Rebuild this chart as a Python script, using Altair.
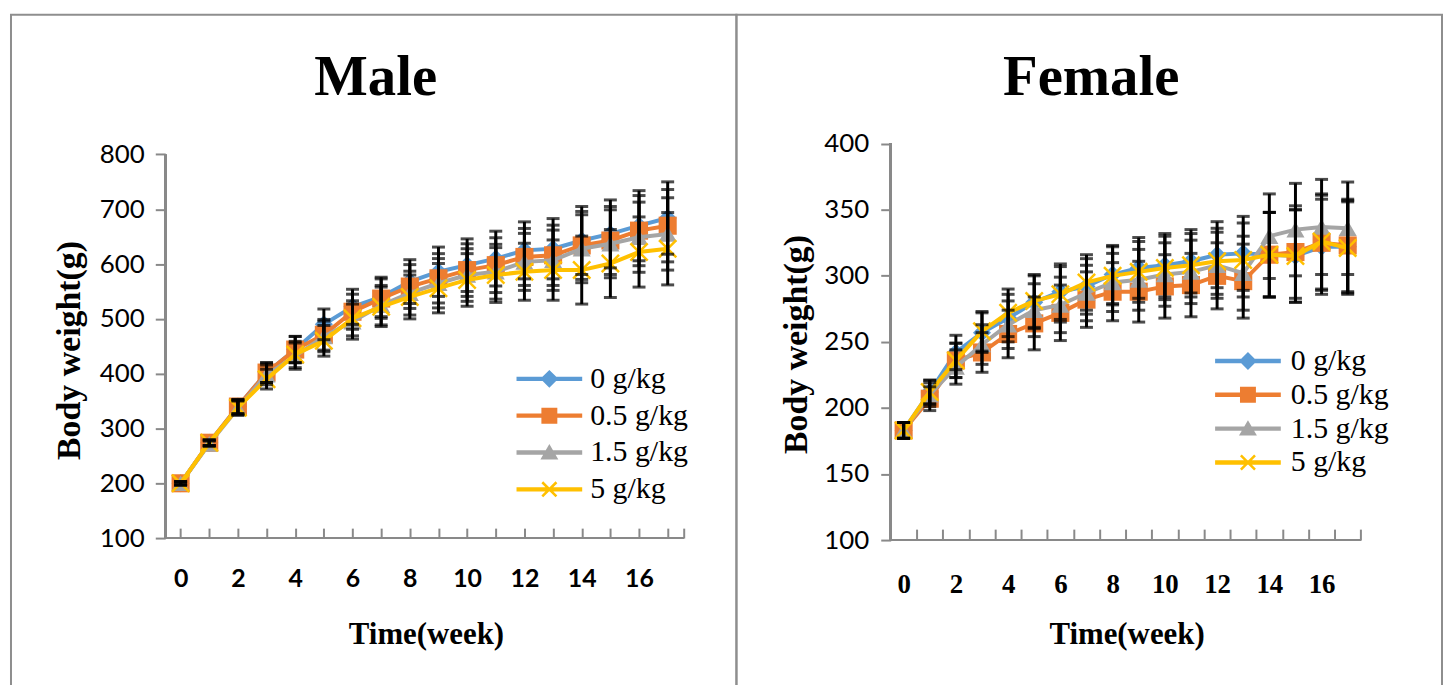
import altair as alt
import pandas as pd

# ---------------- data ----------------
weeks = list(range(18))
series_names = ["0 g/kg", "0.5 g/kg", "1.5 g/kg", "5 g/kg"]
series_colors = ["#5B9BD5", "#ED7D31", "#A5A5A5", "#FFC000"]

male_0 = [200, 274, 340, 402, 444, 490, 522, 540, 568, 586, 598, 610, 625, 628, 643, 655, 670, 684]
male_05 = [200, 274, 340, 402, 444, 471, 513, 537, 559, 574, 589, 598, 613, 616, 634, 643, 661, 670]
male_15 = [200, 272, 337, 398, 432, 468, 495, 525, 547, 565, 580, 586, 604, 607, 628, 637, 649, 655]
male_5 = [200, 274, 338, 390, 435, 460, 501, 522, 540, 556, 571, 580, 586, 589, 589, 601, 622, 628]
male_sd = [3, 5, 13, 18, 24, 28, 32, 36, 40, 45, 48, 50, 52, 55, 62, 62, 64, 66]

female_0 = [183, 212, 242, 257, 268, 280, 288, 292, 301, 306, 308, 311, 316, 317, 316, 315, 322, 322]
female_05 = [183, 207, 236, 242, 256, 264, 272, 282, 288, 288, 292, 293, 300, 296, 316, 318, 325, 323]
female_15 = [183, 210, 231, 248, 263, 274, 278, 287, 295, 297, 301, 303, 308, 302, 330, 335, 337, 336]
female_5 = [183, 212, 236, 258, 272, 281, 286, 295, 300, 303, 306, 308, 311, 312, 316, 315, 326, 321]
female_sd = [6, 9, 13, 15, 18, 20, 21, 21, 22, 23, 24, 24, 25, 28, 32, 35, 36, 35]

x_label_values = [0, 2, 4, 6, 8, 10, 12, 14, 16]
male_y_ticks = [100, 200, 300, 400, 500, 600, 700, 800]
female_y_ticks = [100, 150, 200, 250, 300, 350, 400]

# ---------------- styles ----------------
AXIS_GRAY = "#898989"
FRAME_GRAY = "#8e8e8e"
SERIF = "Liberation Serif"
SANS = "Lato"
MARKERS = ["diamond", "square", "triangle-up", "M-1,-1L1,1M1,-1L-1,1"]
BAR = "M-3.3,-0.22L3.3,-0.22L3.3,0.22L-3.3,0.22Z "
LEGEND_PATHS = [
    BAR + "M0,-0.9L0.9,0L0,0.9L-0.9,0Z",
    BAR + "M-0.8,-0.8L0.8,-0.8L0.8,0.8L-0.8,0.8Z",
    BAR + "M0,-0.85L0.9,0.7L-0.9,0.7Z",
    BAR + "M-0.8,-0.62L-0.62,-0.8L0.8,0.62L0.62,0.8Z M0.62,-0.8L0.8,-0.62L-0.62,0.8L-0.8,0.62Z",
]


def build_df(series_values, sd):
    rows = []
    for name, vals in zip(series_names, series_values):
        for w, v, s in zip(weeks, vals, sd):
            rows.append({"week": w, "weight": v, "lo": v - s, "hi": v + s, "series": name})
    return pd.DataFrame(rows)


def panel(title, df, g):
    W, H = g["width"], 680
    xs = alt.Scale(domain=g["xdom"], nice=False, zero=False)
    ys = alt.Scale(domain=g["ydom"], nice=False, zero=False)

    y_axis = alt.Axis(
        orient="left", values=g["yticks"], offset=g["yoff"], domain=False, grid=False,
        tickSize=10, tickWidth=2, tickColor=AXIS_GRAY,
        labelFont=SANS, labelFontSize=26, labelColor="black", labelPadding=g["ylabpad"],
        title="Body weight(g)", titleFont=SERIF, titleFontSize=34, titleFontWeight="bold",
        titleColor="black", titleAngle=270, titleAlign="center", titleBaseline="alphabetic",
        titleX=g["ytx"], titleY=g["yty"],
    )
    x_axis_bottom = alt.Axis(
        orient="bottom", values=x_label_values, offset=g["xoff"], domain=False,
        ticks=False, tickSize=0, grid=False, format="d",
        labelFont=g["xfont"], labelFontSize=g["xfs"], labelFontWeight="bold",
        labelColor="black", labelPadding=g["xlabpad"], labelFlush=False,
        title="Time(week)", titleFont=SERIF, titleFontSize=31, titleFontWeight="bold",
        titleColor="black", titleAlign="center", titleBaseline="alphabetic",
        titleX=g["xtx"], titleY=g["xty"],
    )
    x_axis_top = alt.Axis(
        orient="top", values=g["xticks"], offset=g["topoff"], domain=False,
        labels=False, ticks=True, tickSize=g["xticklen"], tickWidth=2,
        tickColor=AXIS_GRAY, grid=False, title=None,
    )

    x0, x1 = g["xaxis"]
    y0, y1 = g["yaxis"]
    base = alt.Chart(df)

    # invisible carrier layer for the y axis and the bottom x axis
    axis_carrier = base.mark_point(opacity=0).encode(
        x=alt.X("week:Q", scale=xs, axis=x_axis_bottom),
        y=alt.Y("weight:Q", scale=ys, axis=y_axis),
    )
    # axis lines drawn in data units
    x_line = base.mark_rule(color=AXIS_GRAY, strokeWidth=2).encode(
        x=alt.X(datum=x0, type="quantitative", scale=xs, axis=x_axis_top),
        x2=alt.X2(datum=x1),
        y=alt.Y(datum=y0, type="quantitative", scale=ys, axis=None),
    )
    y_line = base.mark_rule(color=AXIS_GRAY, strokeWidth=2).encode(
        x=alt.X(datum=x0, type="quantitative", scale=xs, axis=None),
        y=alt.Y(datum=y0, type="quantitative", scale=ys, axis=None),
        y2=alt.Y2(datum=y1),
    )

    layers = [axis_carrier, x_line, y_line]
    for name, color, shape in zip(series_names, series_colors, MARKERS):
        sub = base.transform_filter(alt.datum.series == name)
        line = sub.mark_line(color=color, strokeWidth=4).encode(
            x=alt.X("week:Q", scale=xs, axis=None),
            y=alt.Y("weight:Q", scale=ys, axis=None),
        )
        if shape.startswith("M"):
            pts = sub.mark_point(shape=shape, filled=False, color=color, strokeWidth=2.5, size=300, opacity=1)
        else:
            pts = sub.mark_point(shape=shape, filled=True, color=color, size=330, opacity=1)
        pts = pts.encode(
            x=alt.X("week:Q", scale=xs, axis=None),
            y=alt.Y("weight:Q", scale=ys, axis=None),
        )
        layers += [line, pts]

    err = base.mark_errorbar(ticks=True, color="black", thickness=3, size=13).encode(
        x=alt.X("week:Q", scale=xs, axis=None),
        y=alt.Y("lo:Q", scale=ys, axis=None),
        y2="hi:Q",
    )
    layers.append(err)

    leg = alt.Legend(
        title=None, orient="none", legendX=g["legx"], legendY=g["legy"],
        symbolSize=400, symbolStrokeWidth=0, symbolOpacity=1,
        labelFont=SERIF, labelFontSize=30, labelColor="black",
        labelOffset=g["laboff"], rowPadding=g["rowpad"], padding=0,
    )
    legend_layer = base.mark_point(filled=True, opacity=0).encode(
        x=alt.X("week:Q", scale=xs, axis=None),
        y=alt.Y("weight:Q", scale=ys, axis=None),
        color=alt.Color("series:N", scale=alt.Scale(domain=series_names, range=series_colors), legend=leg),
        shape=alt.Shape("series:N", scale=alt.Scale(domain=series_names, range=LEGEND_PATHS), legend=leg),
    )
    layers.append(legend_layer)

    return alt.layer(*layers).resolve_axis(x="independent", y="independent").properties(
        width=W, height=H,
        title=alt.TitleParams(
            text=title, font=SERIF, fontSize=57, fontWeight="bold", color="black",
            anchor="middle", frame="group", offset=-80, baseline="alphabetic",
            dx=g["tdx"], dy=58,
        ),
    )


male_geom = dict(
    width=729, xdom=[-5.92, 19.40], ydom=[-179.6, 1055.1], yticks=male_y_ticks,
    yoff=-155, xoff=-154, topoff=-526, ylabpad=11, xlabpad=29,
    xfont=SANS, xfs=25, xticks=list(range(18)) + [17.55], xticklen=10,
    xaxis=(-0.54, 17.55), yaxis=(100, 800),
    ytx=-86, yty=337, xtx=417, xty=106,
    legx=526, legy=351, rowpad=7, laboff=26, tdx=2,
)
female_geom = dict(
    width=709, xdom=[-6.40, 20.61], ydom=[-14.5, 497.7], yticks=female_y_ticks,
    yoff=-155, xoff=-152, topoff=-528, ylabpad=12, xlabpad=32,
    xfont=SERIF, xfs=27, xticks=[w + 0.5 for w in weeks], xticklen=11,
    xaxis=(-0.5, 17.5), yaxis=(100, 400),
    ytx=-85, yty=331, xtx=392, xty=104,
    legx=499, legy=333, rowpad=4, laboff=28, tdx=2,
)

left = panel("Male", build_df([male_0, male_05, male_15, male_5], male_sd), male_geom)
right = panel("Female", build_df([female_0, female_05, female_15, female_5], female_sd), female_geom)

chart = (
    alt.hconcat(left, right, spacing=0, bounds="flush")
    .resolve_scale(color="independent", shape="independent")
    .properties(padding={"left": 2, "top": 4, "right": 0, "bottom": 0}, background="white")
    .configure_view(stroke=FRAME_GRAY, strokeWidth=2)
)

chart.save("out.html", embed_options={"renderer": "svg", "actions": False})
